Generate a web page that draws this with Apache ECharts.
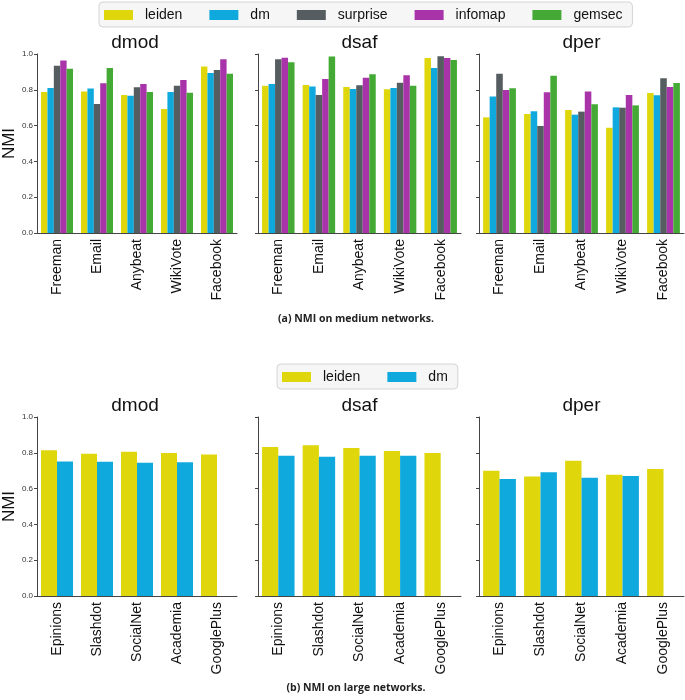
<!DOCTYPE html>
<html>
<head>
<meta charset="utf-8">
<script src="https://cdn.jsdelivr.net/npm/echarts@6/dist/echarts.min.js"></script>
<style>
  html, body { margin: 0; padding: 0; background: #fff; }
  #main { width: 685px; height: 700px; }
</style>
</head>
<body>
<div id="main"></div>
<script>
// data
var measures = ['dmod', 'dsaf', 'dper'];
var mediumAlgos = ['leiden', 'dm', 'surprise', 'infomap', 'gemsec'];
var largeAlgos = ['leiden', 'dm'];
var mediumNets = ['Freeman', 'Email', 'Anybeat', 'WikiVote', 'Facebook'];
var largeNets = ['Epinions', 'Slashdot', 'SocialNet', 'Academia', 'GooglePlus'];

// rows follow mediumAlgos
var mediumDmod = [
	[0.788, 0.790, 0.771, 0.693, 0.930],
	[0.810, 0.807, 0.767, 0.788, 0.894],
	[0.935, 0.721, 0.814, 0.822, 0.911],
	[0.964, 0.837, 0.833, 0.855, 0.971],
	[0.917, 0.922, 0.788, 0.784, 0.889]
];
var mediumDsaf = [
	[0.822, 0.827, 0.816, 0.803, 0.977],
	[0.833, 0.818, 0.805, 0.810, 0.922],
	[0.971, 0.771, 0.825, 0.840, 0.988],
	[0.979, 0.861, 0.868, 0.881, 0.977],
	[0.954, 0.986, 0.887, 0.822, 0.967]
];
var mediumDper = [
	[0.646, 0.665, 0.687, 0.588, 0.782],
	[0.762, 0.680, 0.661, 0.702, 0.769],
	[0.889, 0.598, 0.678, 0.700, 0.865],
	[0.799, 0.786, 0.790, 0.771, 0.816],
	[0.809, 0.878, 0.719, 0.713, 0.838]
];
// rows follow largeAlgos (dm has no GooglePlus result)
var largeDmod = [
	[0.814, 0.795, 0.806, 0.799, 0.790],
	[0.752, 0.750, 0.745, 0.747, null]
];
var largeDsaf = [
	[0.832, 0.842, 0.827, 0.810, 0.799],
	[0.784, 0.778, 0.784, 0.784, null]
];
var largeDper = [
	[0.700, 0.667, 0.756, 0.678, 0.709],
	[0.654, 0.691, 0.661, 0.670, null]
];
var yTicks = [0, 0.2, 0.4, 0.6, 0.8, 1.0];

var colors = {
	leiden: '#dfd70b',
	dm: '#10a9dd',
	surprise: '#555d60',
	infomap: '#a934a9',
	gemsec: '#45aa35'
};

var lefts = [33, 258, 479];
var widths = [204, 203, 205];
var rows = [
	{ top: 54, nets: mediumNets, algos: mediumAlgos, data: [mediumDmod, mediumDsaf, mediumDper] },
	{ top: 417, nets: largeNets, algos: largeAlgos, data: [largeDmod, largeDsaf, largeDper] }
];
var gridH = 179;
var font = 'Liberation Sans, Arial, sans-serif';

var grid = [], xAxis = [], yAxis = [], series = [], graphic = [];
var k = 0;
rows.forEach(function (row, r) {
	for (var c = 0; c < 3; c++) {
		grid.push({ left: lefts[c], top: row.top, width: widths[c], height: gridH });
		xAxis.push({
			gridIndex: k,
			type: 'category',
			data: row.nets,
			axisLine: { lineStyle: { color: '#444', width: 1 } },
			axisTick: { alignWithLabel: true, length: 4, lineStyle: { color: '#444' } },
			axisLabel: { rotate: 90, interval: 0, fontSize: 14, color: '#111', fontFamily: font, margin: 6 }
		});
		yAxis.push({
			gridIndex: k,
			type: 'value',
			min: yTicks[0],
			max: yTicks[yTicks.length - 1],
			interval: 0.2,
			name: c === 0 ? 'NMI' : '',
			nameLocation: 'middle',
			nameGap: 12,
			nameTextStyle: { fontSize: 17, color: '#111', fontFamily: font },
			axisLine: { show: true, lineStyle: { color: '#444', width: 1 } },
			axisTick: { show: true, length: 3, lineStyle: { color: '#444' } },
			splitLine: { show: false },
			axisLabel: {
				show: c === 0,
				fontSize: 8,
				color: '#333',
				fontFamily: font,
				margin: 4,
				formatter: function (v) { return v.toFixed(1); }
			}
		});
		row.algos.forEach(function (a, i) {
			series.push({
				name: a,
				type: 'bar',
				xAxisIndex: k,
				yAxisIndex: k,
				data: row.data[c][i],
				barGap: 0,
				barCategoryGap: '20%',
				itemStyle: { color: colors[a] },
				emphasis: { disabled: true }
			});
		});
		graphic.push({
			type: 'text',
			x: lefts[c] + widths[c] / 2,
			y: r === 0 ? 43 : 406,
			style: {
				text: measures[c],
				fontSize: 19,
				fontFamily: font,
				fill: '#111',
				align: 'center',
				verticalAlign: 'middle'
			}
		});
		k++;
	}
});

graphic.push({
	type: 'text', x: 356, y: 319,
	style: { text: '(a) NMI on medium networks.', fontSize: 10.5, fontWeight: 'bold', fontFamily: 'Open Sans, sans-serif', fill: '#222', align: 'center', verticalAlign: 'middle' }
});
graphic.push({
	type: 'text', x: 356, y: 688,
	style: { text: '(b) NMI on large networks.', fontSize: 10.5, fontWeight: 'bold', fontFamily: 'Open Sans, sans-serif', fill: '#222', align: 'center', verticalAlign: 'middle' }
});

var legendBase = {
	orient: 'horizontal',
	itemWidth: 29,
	itemHeight: 10,
	itemGap: 27,
	icon: 'rect',
	padding: [6, 10, 5, 5],
	backgroundColor: '#f6f6f6',
	borderColor: '#d4d4d4',
	borderWidth: 1,
	borderRadius: 4,
	selectedMode: false,
	textStyle: { fontSize: 14, color: '#111', fontFamily: font, padding: [0, 0, 0, 7] }
};

var myChart = echarts.init(document.getElementById('main'));
var option = {
	animation: false,
	backgroundColor: '#fff',
	legend: [
		Object.assign({}, legendBase, { left: 99, top: 2, data: mediumAlgos }),
		Object.assign({}, legendBase, { left: 277, top: 364, data: largeAlgos })
	],
	grid: grid,
	xAxis: xAxis,
	yAxis: yAxis,
	series: series,
	graphic: graphic
};
myChart.setOption(option);
</script>
</body>
</html>
